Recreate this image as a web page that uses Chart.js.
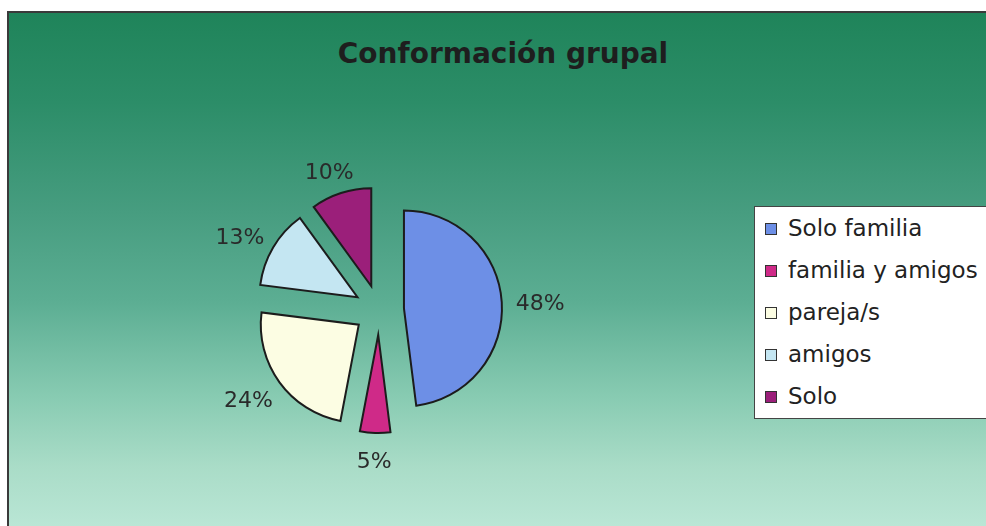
<!DOCTYPE html>
<html>
<head>
<meta charset="utf-8">
<script src="https://cdn.jsdelivr.net/npm/chart.js@4.4.0/dist/chart.umd.min.js"></script>
<style>
  html, body { margin: 0; padding: 0; background: #ffffff; width: 986px; height: 526px; overflow: hidden; }
  #frame {
    position: absolute; left: 7px; top: 11px; width: 1000px; height: 530px;
    border: 2px solid #3a3a3a; box-sizing: border-box;
    background: linear-gradient(to bottom, #1f845a 0%, #2c8d68 17%, #479d80 38%, #5cae93 55%, #88cbb2 73%, #a9dcc7 86%, #bde8d8 100%);
  }
  #title {
    position: absolute; left: 0; width: 1006px; top: 37px; text-align: center;
    font-family: "DejaVu Sans", sans-serif; font-weight: bold; font-size: 28px; color: #1e1e1e;
  }
  #chart { position: absolute; left: 0; top: 0; }
  #legend {
    position: absolute; left: 754px; top: 206px; width: 260px; height: 213px;
    background: #ffffff; border: 1.5px solid #444; box-sizing: border-box;
    font-family: "DejaVu Sans", sans-serif; font-size: 23px; color: #222;
  }
  .item { position: absolute; left: 10px; height: 26px; line-height: 26px; white-space: nowrap; }
  .sw { display: inline-block; width: 10px; height: 10px; border: 1.5px solid #333; margin-right: 11px; vertical-align: 1px; }
</style>
</head>
<body>
<div id="frame"></div>
<div id="title">Conformación grupal</div>
<canvas id="chart" width="986" height="526"></canvas>
<div id="legend"></div>
<script>
const categories = ["Solo familia", "familia y amigos", "pareja/s", "amigos", "Solo"];
const percentages = [48, 5, 24, 13, 10];
const sliceColors = ["#6d8fe6", "#cf2a88", "#fcfde3", "#c4e6f2", "#9b1f7a"];

const EXPLODE = 25;

const explodePlugin = {
  id: 'explode',
  beforeDatasetsDraw(chart) {
    const a = chart.chartArea;
    const cx = (a.left + a.right) / 2, cy = (a.top + a.bottom) / 2;
    chart.getDatasetMeta(0).data.forEach(arc => {
      const mid = (arc.startAngle + arc.endAngle) / 2;
      arc.x = cx + Math.cos(mid) * EXPLODE;
      arc.y = cy + Math.sin(mid) * EXPLODE;
    });
  }
};

const labelPlugin = {
  id: 'pctLabels',
  afterDatasetsDraw(chart) {
    const ctx = chart.ctx;
    const meta = chart.getDatasetMeta(0);
    const vals = chart.data.datasets[0].data;
    const total = vals.reduce((s, v) => s + v, 0);
    ctx.save();
    ctx.font = '22px "DejaVu Sans", sans-serif';
    ctx.fillStyle = '#2a2a2a';
    ctx.textAlign = 'center';
    ctx.textBaseline = 'middle';
    meta.data.forEach((arc, i) => {
      const txt = Math.round(vals[i] / total * 100) + '%';
      const mid = (arc.startAngle + arc.endAngle) / 2;
      const dx = Math.cos(mid), dy = Math.sin(mid);
      const w = ctx.measureText(txt).width, h = 22;
      const d = arc.outerRadius + 14;
      const x = arc.x + dx * d + dx * w / 2;
      const y = arc.y + dy * d + dy * h / 2 + 4;
      ctx.fillText(txt, x, y);
    });
    ctx.restore();
  }
};

new Chart(document.getElementById('chart'), {
  type: 'pie',
  data: {
    labels: categories,
    datasets: [{
      data: percentages,
      backgroundColor: sliceColors,
      borderColor: '#1c1c1c',
      borderWidth: 2,
      borderJoinStyle: 'miter'
    }]
  },
  options: {
    responsive: false,
    devicePixelRatio: 1,
    animation: false,
    radius: 98,
    layout: { padding: { left: 100, right: 328, top: 150, bottom: 56 } },
    plugins: {
      legend: { display: false },
      title: { display: false },
      tooltip: { enabled: false }
    }
  },
  plugins: [explodePlugin, labelPlugin]
});

const legend = document.getElementById('legend');
categories.forEach((c, i) => {
  const d = document.createElement('div');
  d.className = 'item';
  d.style.top = (8 + i * 42) + 'px';
  d.innerHTML = '<span class="sw" style="background:' + sliceColors[i] + '"></span>' + c;
  legend.appendChild(d);
});
</script>
</body>
</html>
